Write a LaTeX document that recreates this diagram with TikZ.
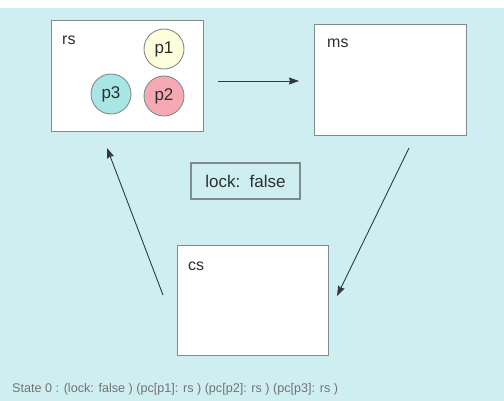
\documentclass[tikz,border=0pt]{standalone}
\usepackage{fontspec}
\setmainfont{Liberation Sans}
\usetikzlibrary{arrows.meta}
\definecolor{bgc}{HTML}{CFEEF2}
\definecolor{edgec}{HTML}{7F8C8C}
\definecolor{pone}{HTML}{FEFDDC}
\definecolor{ptwo}{HTML}{F4A9B3}
\definecolor{pthree}{HTML}{A8E6E6}
\definecolor{arrc}{HTML}{333A3A}
\definecolor{txtc}{HTML}{2A2F2F}
\tikzset{
  statebox/.style={draw=edgec, line width=1.3pt, fill=white, anchor=north west, inner sep=0pt},
  lbl/.style={anchor=base west, inner sep=0pt, font=\fontsize{16}{18}\selectfont, text=txtc},
  proc/.style={circle, draw=edgec, line width=0.9pt, minimum size=40pt, inner sep=0pt, font=\fontsize{17}{19}\selectfont, text=txtc},
  conn/.style={draw=arrc, line width=0.9pt, -{Stealth[length=10pt,width=7pt,inset=1pt]}},
}
\begin{document}
\begin{tikzpicture}[x=1pt,y=-1pt]
\useasboundingbox (0,0) rectangle (504,401);
\fill[white] (0,0) rectangle (504,401);
\fill[bgc] (0,8) rectangle (504,401);
% boxes
\node[statebox, minimum width=152pt, minimum height=111pt] (rs) at (51,20) {};
\node[statebox, minimum width=152pt, minimum height=111pt] (ms) at (314,24) {};
\node[statebox, minimum width=151pt, minimum height=110pt] (cs) at (177,245) {};
\node[draw=edgec, line width=1.3pt, minimum width=109pt, minimum height=36pt, inner sep=0pt, font=\fontsize{17}{19}\selectfont, text=txtc] (lock) at (245.5,181) {lock:\ \ false};
% labels
\node[lbl] (rsl) at (62,45) {rs};
\node[lbl] (msl) at (327,48) {ms};
\node[lbl] (csl) at (188,270) {cs};
% processes
\node[proc, fill=pone] (p1) at (164,49) {p1};
\node[proc, fill=ptwo] (p2) at (164,96) {p2};
\node[proc, fill=pthree] (p3) at (111,94) {p3};
% connectors
\coordinate (a1s) at (218,81);
\coordinate (a1e) at (299,81);
\coordinate (a2s) at (409,148);
\coordinate (a2e) at (337,296);
\coordinate (a3s) at (163,295);
\coordinate (a3e) at (107,148);
\draw[conn] (a1s) -- (a1e);
\draw[conn] (a2s) -- (a2e);
\draw[conn] (a3s) -- (a3e);
% status
\node[anchor=base west, inner sep=0pt, font=\fontsize{12.6}{14}\selectfont, text=black!55] (status) at (12,392) {State 0 : (lock: false ) (pc[p1]: rs ) (pc[p2]: rs ) (pc[p3]: rs )};
\end{tikzpicture}
\end{document}
